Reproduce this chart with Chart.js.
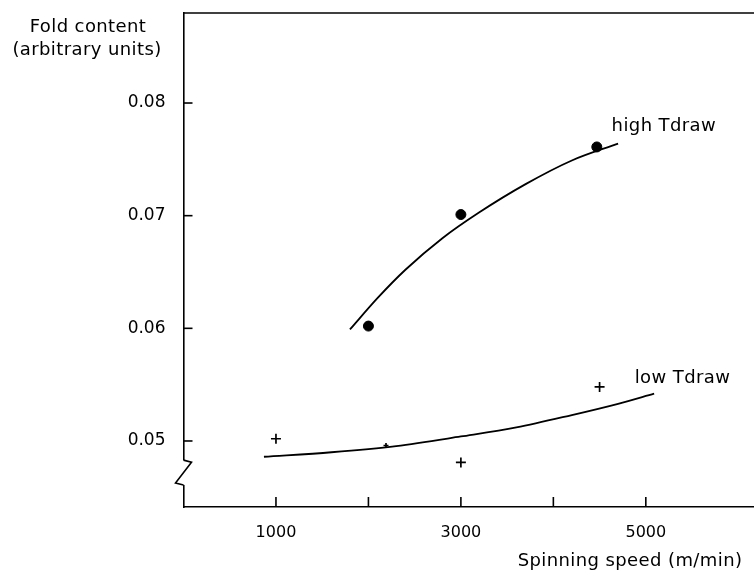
<!DOCTYPE html>
<html>
<head>
<meta charset="utf-8">
<script src="https://cdn.jsdelivr.net/npm/chart.js@4"></script>
<style>
  html, body { margin: 0; padding: 0; overflow: hidden; background: #fff; }
  #wrap { width: 754px; height: 572px; position: relative; }
  canvas { display: block; }
</style>
</head>
<body>
<div id="wrap"><canvas id="foldChart"></canvas></div>
<script>
// Measured points (spinning speed m/min, fold content)
const highSpeed = [2000, 3000, 4470];
const highFold = [0.0602, 0.0701, 0.0761];
const lowSpeed = [1000, 2190, 3000, 4500];
const lowFold = [0.0502, 0.0496, 0.0481, 0.0548];
const lowSize = [5, 2.5, 5, 5];   // the one at 2190 is mostly hidden under the curve

// Hand-drawn fit curves
const highCurveSpeed = [1800, 2100, 2400, 2800, 3200, 3700, 4200, 4700];
const highCurveFold = [0.0599, 0.0627, 0.0652, 0.0680, 0.0703, 0.0728, 0.0749, 0.0764];
const lowCurveSpeed = [870, 1600, 2300, 3000, 3600, 4200, 4700, 5090];
const lowCurveFold = [0.0486, 0.0490, 0.04955, 0.0504, 0.0512, 0.0523, 0.0533, 0.0542];

const xTicks = [1000, 2000, 3000, 4000, 5000];
const xTickLabels = ['1000', '', '3000', '', '5000'];
const yTicks = [0.05, 0.06, 0.07, 0.08];
const yTickLabels = ['0.05', '0.06', '0.07', '0.08'];

const seriesLabels = [
    { text: 'high Tdraw', x: 4630, y: 0.0779 },
    { text: 'low Tdraw', x: 4880, y: 0.0556 }
];

const FONT = '"DejaVu Sans", sans-serif';

function toXY(xs, ys) {
    return xs.map((x, i) => ({ x: x, y: ys[i] }));
}

// axis frame, inward ticks, axis break and free text
const decor = {
    id: 'decor',
    afterDraw(chart) {
        const c = chart.ctx;
        const area = chart.chartArea;
        const xs = chart.scales.x;
        const ys = chart.scales.y;
        c.save();
        c.strokeStyle = '#000';
        c.lineWidth = 1.6;

        // top line
        c.beginPath();
        c.moveTo(area.left, area.top);
        c.lineTo(area.right, area.top);
        c.stroke();

        // ticks pointing inward
        xTicks.forEach(v => {
            const px = xs.getPixelForValue(v);
            c.beginPath();
            c.moveTo(px, area.bottom);
            c.lineTo(px, area.bottom - 10);
            c.stroke();
        });
        yTicks.forEach(v => {
            const py = ys.getPixelForValue(v);
            c.beginPath();
            c.moveTo(area.left, py);
            c.lineTo(area.left + 9, py);
            c.stroke();
        });

        // axis break
        const b1 = ys.getPixelForValue(0.0483);
        const b2 = ys.getPixelForValue(0.0461);
        c.fillStyle = '#fff';
        c.fillRect(area.left - 3, b1, 6, b2 - b1);
        c.beginPath();
        c.moveTo(area.left, b1);
        c.lineTo(area.left + 8, b1 + 2);
        c.lineTo(area.left - 8, b2 - 2);
        c.lineTo(area.left, b2);
        c.stroke();

        // texts
        c.fillStyle = '#000';
        c.font = '18px ' + FONT;
        c.letterSpacing = '0.4px';
        c.textAlign = 'center';
        c.textBaseline = 'middle';
        c.fillText('Fold content', 88, 27);
        c.fillText('(arbitrary units)', 87, 50);
        c.fillText('Spinning speed (m/min)', 630, 561);

        c.textAlign = 'left';
        seriesLabels.forEach(l => {
            c.fillText(l.text, xs.getPixelForValue(l.x), ys.getPixelForValue(l.y));
        });
        c.restore();
    }
};

const ctx = document.getElementById('foldChart').getContext('2d');
const foldChart = new Chart(ctx, {
    type: 'scatter',
    data: {
        datasets: [
            {
                label: 'high Tdraw fit',
                type: 'line',
                data: toXY(highCurveSpeed, highCurveFold),
                borderColor: '#000',
                borderWidth: 1.8,
                pointRadius: 0,
                cubicInterpolationMode: 'monotone',
                fill: false
            },
            {
                label: 'low Tdraw fit',
                type: 'line',
                data: toXY(lowCurveSpeed, lowCurveFold),
                borderColor: '#000',
                borderWidth: 1.8,
                pointRadius: 0,
                cubicInterpolationMode: 'monotone',
                fill: false
            },
            {
                label: 'high Tdraw',
                data: toXY(highSpeed, highFold),
                pointStyle: 'circle',
                pointRadius: 5,
                backgroundColor: '#000',
                borderColor: '#000'
            },
            {
                label: 'low Tdraw',
                data: toXY(lowSpeed, lowFold),
                pointStyle: 'cross',
                pointRadius: lowSize,
                borderWidth: 1.7,
                borderColor: '#000'
            }
        ]
    },
    options: {
        responsive: true,
        maintainAspectRatio: false,
        animation: false,
        layout: { autoPadding: false, padding: { top: 13, right: 0, bottom: 0, left: 0 } },
        plugins: {
            legend: { display: false },
            tooltip: { enabled: false }
        },
        scales: {
            x: {
                type: 'linear',
                min: 0,
                max: 6170,
                afterBuildTicks: s => { s.ticks = xTicks.map(v => ({ value: v })); },
                afterFit: s => {
                    s.height = 65;
                    s.paddingLeft = 0;
                    s.paddingRight = 0;
                },
                grid: { display: false, drawTicks: false },
                border: { display: true, color: '#000', width: 1.6 },
                ticks: {
                    color: '#000',
                    font: { family: FONT, size: 16 },
                    padding: 16,
                    maxRotation: 0,
                    callback: (v) => xTickLabels[xTicks.indexOf(v)] ?? ''
                }
            },
            y: {
                type: 'linear',
                min: 0.04414,
                max: 0.08799,
                afterBuildTicks: s => { s.ticks = yTicks.map(v => ({ value: v })); },
                afterFit: s => {
                    s.width = 183.5;
                    s.paddingTop = 0;
                    s.paddingBottom = 0;
                },
                grid: { display: false, drawTicks: false },
                border: { display: true, color: '#000', width: 1.6 },
                ticks: {
                    color: '#000',
                    font: { family: FONT, size: 17 },
                    padding: 18,
                    callback: (v) => yTickLabels[yTicks.indexOf(v)] ?? ''
                }
            }
        }
    },
    plugins: [decor]
});
</script>
</body>
</html>
